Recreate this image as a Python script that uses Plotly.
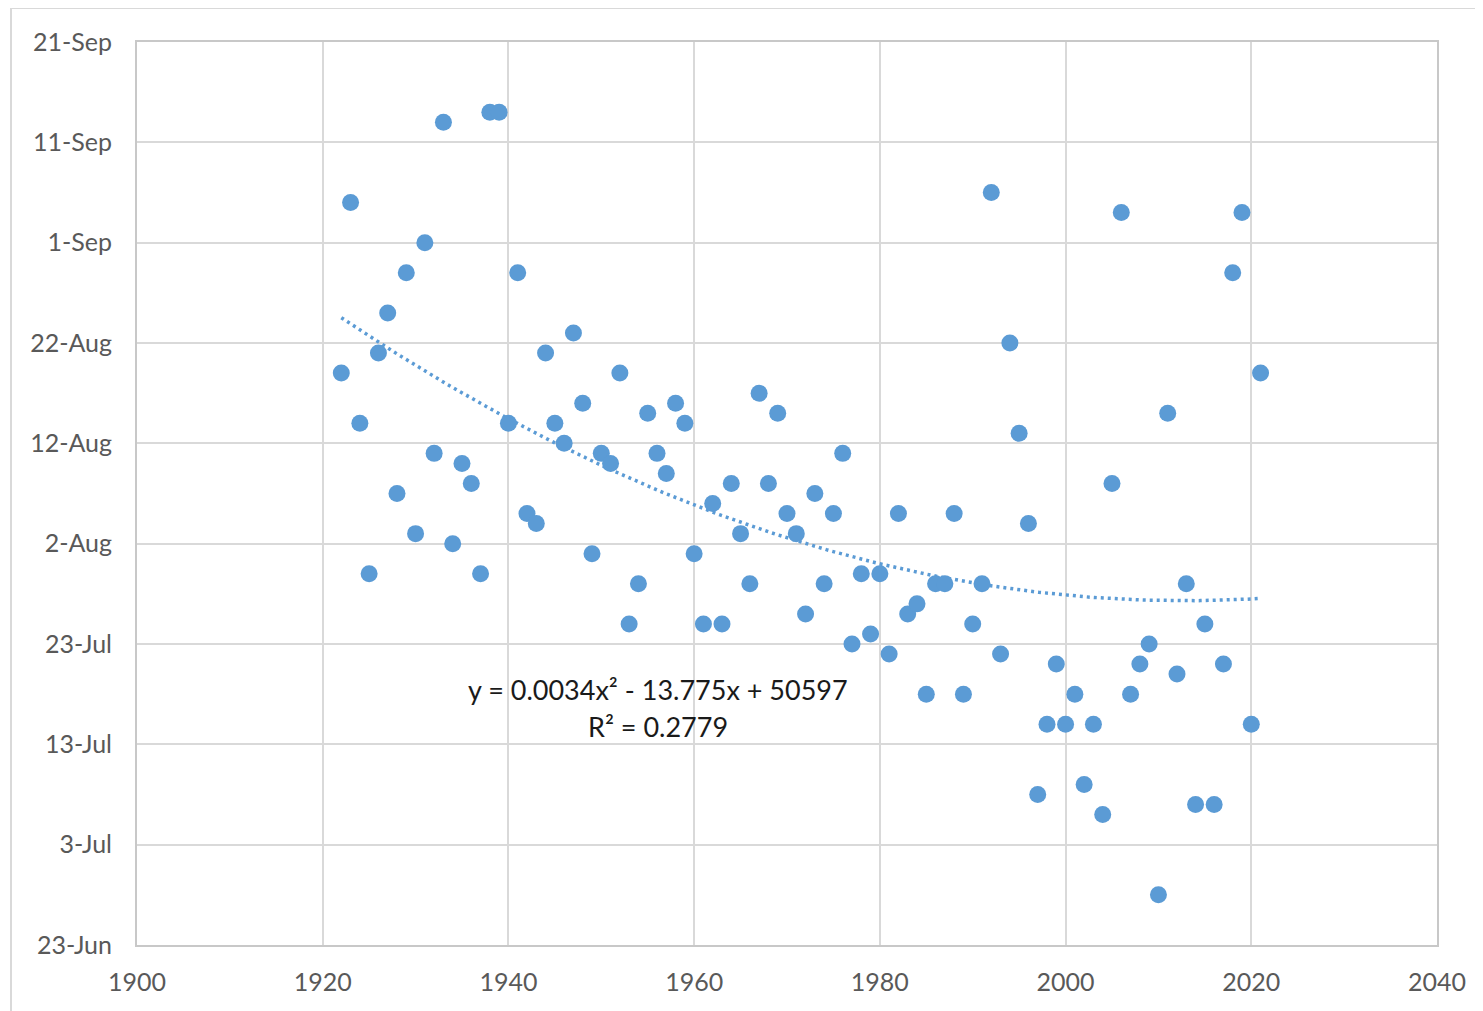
import numpy as np
import pandas as pd
import plotly.graph_objects as go

# ---- data ----
years = list(range(1922, 2022))
dates = [
    "08-19", "09-05", "08-14", "07-30", "08-21", "08-25", "08-07", "08-29", "08-03", "09-01",  # 1922-1931
    "08-11", "09-13", "08-02", "08-10", "08-08", "07-30", "09-14", "09-14", "08-14", "08-29",  # 1932-1941
    "08-05", "08-04", "08-21", "08-14", "08-12", "08-23", "08-16", "08-01", "08-11", "08-10",  # 1942-1951
    "08-19", "07-25", "07-29", "08-15", "08-11", "08-09", "08-16", "08-14", "08-01", "07-25",  # 1952-1961
    "08-06", "07-25", "08-08", "08-03", "07-29", "08-17", "08-08", "08-15", "08-05", "08-03",  # 1962-1971
    "07-26", "08-07", "07-29", "08-05", "08-11", "07-23", "07-30", "07-24", "07-30", "07-22",  # 1972-1981
    "08-05", "07-26", "07-27", "07-18", "07-29", "07-29", "08-05", "07-18", "07-25", "07-29",  # 1982-1991
    "09-06", "07-22", "08-22", "08-13", "08-04", "07-08", "07-15", "07-21", "07-15", "07-18",  # 1992-2001
    "07-09", "07-15", "07-06", "08-08", "09-04", "07-18", "07-21", "07-23", "06-28", "08-15",  # 2002-2011
    "07-20", "07-29", "07-07", "07-25", "07-07", "07-21", "08-29", "09-04", "07-15", "08-19",  # 2012-2021
]
y_ticks_start = "06-23"
y_ticks_end = "09-21"
x_ticks = [1900, 1920, 1940, 1960, 1980, 2000, 2020, 2040]
equation_text = "y = 0.0034x² - 13.775x + 50597"
r2_text = "R² = 0.2779"

BASE_YEAR = 2021
date_vals = pd.to_datetime([f"{BASE_YEAR}-{d}" for d in dates])

# quadratic trendline fitted to the data
base = pd.Timestamp(f"{BASE_YEAR}-01-01")
day_num = np.array([(d - base).days for d in date_vals], dtype=float)
yrs = np.array(years, dtype=float)
coef = np.polyfit(yrs, day_num, 2)
trend_x = np.linspace(yrs.min(), yrs.max(), 200)
trend_days = np.polyval(coef, trend_x)
trend_y = [base + pd.Timedelta(days=float(v)) for v in trend_days]

BLUE = "#5b9bd5"
GRID = "#d9d9d9"
FONT = "Lato"

fig = go.Figure()
fig.add_trace(go.Scatter(
    x=trend_x, y=trend_y, mode="lines",
    line=dict(color=BLUE, width=3.5, dash="3px,4px"),
    hoverinfo="skip", showlegend=False,
))
fig.add_trace(go.Scatter(
    x=years, y=date_vals, mode="markers",
    marker=dict(color=BLUE, size=17, line=dict(width=0)),
    showlegend=False,
))

fig.update_layout(
    width=1475, height=1003,
    margin=dict(l=129, r=46, t=34, b=66),
    paper_bgcolor="white", plot_bgcolor="white",
    font=dict(family=FONT, size=25, color="#595959"),
    showlegend=False,
)
fig.update_xaxes(
    range=[1900, 2040], tickvals=x_ticks, ticktext=[str(v) for v in x_ticks],
    showgrid=True, gridcolor=GRID, gridwidth=2,
    showline=True, linecolor="#c8c8c8", linewidth=2, mirror=True,
    zeroline=False, ticks="", ticklabelstandoff=14,
    tickfont=dict(family=FONT, size=25, color="#595959"),
)
fig.update_yaxes(
    type="date",
    range=[f"{BASE_YEAR}-{y_ticks_start}", f"{BASE_YEAR}-{y_ticks_end}"],
    tick0=f"{BASE_YEAR}-{y_ticks_start}", dtick=10 * 86400000,
    tickformat="%-d-%b",
    showgrid=True, gridcolor=GRID, gridwidth=2,
    showline=True, linecolor="#c8c8c8", linewidth=2, mirror=True,
    zeroline=False, ticks="", ticklabelstandoff=18,
    tickfont=dict(family=FONT, size=25, color="#595959"),
)

fig.add_annotation(
    xref="paper", yref="paper", x=(658 - 137) / 1300, y=(945 - 689) / 903,
    text=equation_text, showarrow=False, xanchor="center", yanchor="middle",
    font=dict(family=FONT, size=27, color="#1a1a1a"),
)
fig.add_annotation(
    xref="paper", yref="paper", x=(658 - 137) / 1300, y=(945 - 726) / 903,
    text=r2_text, showarrow=False, xanchor="center", yanchor="middle",
    font=dict(family=FONT, size=27, color="#1a1a1a"),
)

# outer chart-area border (only top and left edges are visible in the reference)
bx0, by_top, by_bot, bx_right = (11 - 137) / 1300, (945 - 8) / 903, (945 - 1011) / 903, (1483 - 137) / 1300
fig.add_shape(type="line", xref="paper", yref="paper",
              x0=bx0, x1=bx_right, y0=by_top, y1=by_top,
              line=dict(color=GRID, width=2), layer="below")
fig.add_shape(type="line", xref="paper", yref="paper",
              x0=bx0, x1=bx0, y0=by_top, y1=by_bot,
              line=dict(color=GRID, width=2), layer="below")

fig.write_html("out.html")
